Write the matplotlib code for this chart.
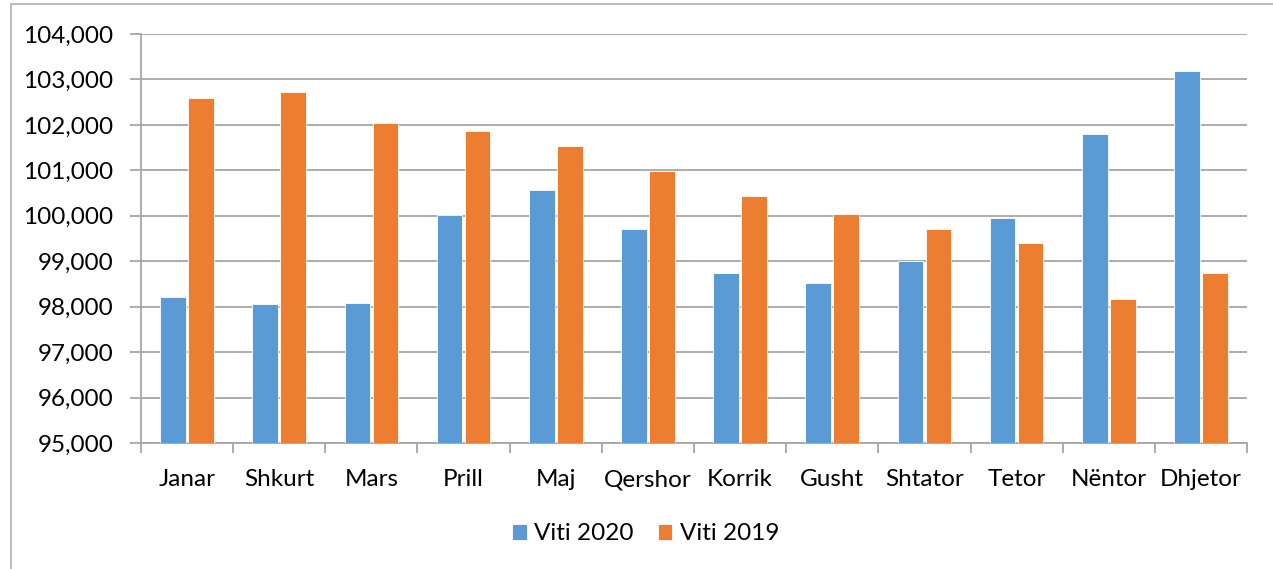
import numpy as np
import matplotlib.pyplot as plt
from matplotlib.patches import Rectangle
from matplotlib.ticker import FuncFormatter

# te dhenat e lexuara nga grafiku
muajt = ['Janar', 'Shkurt', 'Mars', 'Prill', 'Maj', 'Qershor', 'Korrik',
         'Gusht', 'Shtator', 'Tetor', 'Nëntor', 'Dhjetor']
viti_2020 = [98210, 98050, 98070, 100020, 100560, 99720, 98730,
             98510, 99005, 99950, 101800, 103190]
viti_2019 = [102590, 102720, 102040, 101860, 101530, 100990, 100440,
             100040, 99720, 99410, 98160, 98750]

BLUE = '#5B9BD5'
ORANGE = '#ED7D31'
GRID = '#a6a6a6'
FS = 17.5

plt.rcParams['font.family'] = ['Lato', 'DejaVu Sans']

fig = plt.figure(figsize=(12.73, 5.69), dpi=100)
ax = fig.add_axes([141 / 1273, 126 / 569, 1106 / 1273, 409 / 569])

# kuadri i jashtem (i prere nga e djathta dhe poshte)
fig.patches.append(Rectangle((11 / 1273, -0.1), 1.2, 1.1 - 4 / 569,
                             transform=fig.transFigure, fill=False,
                             edgecolor='#b0b0b0', linewidth=1.2))

x = np.arange(len(muajt))
w = 0.277
off = 0.152
ax.bar(x - off, viti_2020, w, color=BLUE, edgecolor='white',
       linewidth=0.6, label='Viti 2020', zorder=3)
ax.bar(x + off, viti_2019, w, color=ORANGE, edgecolor='white',
       linewidth=0.6, label='Viti 2019', zorder=3)

ax.set_ylim(95000, 104000)
ax.set_xlim(-0.5, len(muajt) - 0.5)
ax.set_yticks(np.arange(95000, 104001, 1000))
ax.yaxis.set_major_formatter(FuncFormatter(lambda v, p: f'{int(v):,}'))
ax.grid(axis='y', color=GRID, linewidth=1.3, zorder=0)

ax.set_xticks(x)
ax.set_xticklabels(muajt)
ax.set_xticks(np.arange(-0.5, len(muajt), 1), minor=True)
ax.tick_params(axis='x', which='major', length=0, pad=19, labelsize=FS)
ax.tick_params(axis='x', which='minor', length=7, width=1.3, color=GRID)
ax.tick_params(axis='y', length=8, width=1.3, color=GRID, pad=12,
               labelsize=FS)

for s in ['top', 'right']:
    ax.spines[s].set_visible(False)
for s in ['left', 'bottom']:
    ax.spines[s].set_color(GRID)
    ax.spines[s].set_linewidth(1.3)

fig.legend(loc='center', bbox_to_anchor=(0.507, 1 - 534 / 569), ncol=2,
           frameon=False, fontsize=FS, handlelength=0.6,
           handleheight=0.6, handletextpad=0.3, columnspacing=1.0)

fig.savefig('out.png', dpi=100)
